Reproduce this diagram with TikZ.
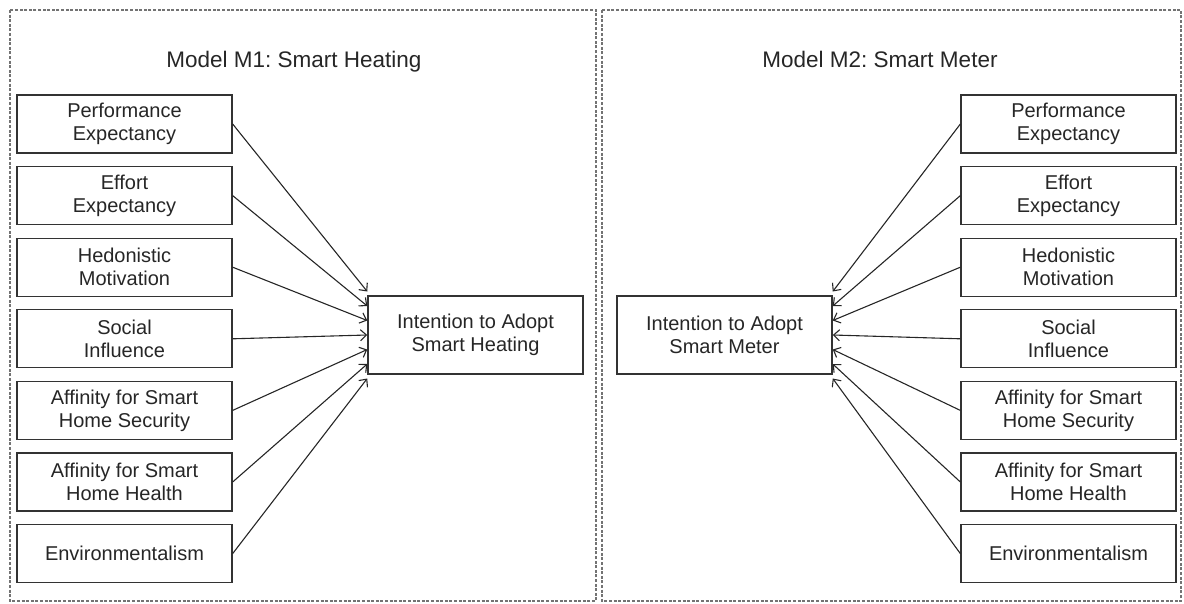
\documentclass[tikz,border=0pt]{standalone}
\usepackage{fontspec}
\setmainfont{Liberation Sans}
\usetikzlibrary{arrows.meta}
\frenchspacing
\begin{document}
\begin{tikzpicture}[x=1pt,y=-1pt,
  panel/.style={draw=black!55,line width=1.4pt,dash pattern=on 3pt off 1.6pt},
  factor/.style={draw=black!80,line width=1.3pt,minimum width=215pt,minimum height=58pt,
    inner sep=0pt,align=center,font=\fontsize{20}{23}\selectfont,text=black!85},
  outcome/.style={factor,minimum height=78pt,line width=1.5pt},
  heading/.style={font=\fontsize{22.5}{27}\selectfont,text=black!85,anchor=base},
  link/.style={draw=black!85,line width=1.1pt,-{Straight Barb[length=6pt,width=11pt]}}]
\useasboundingbox (0,0) rectangle (1184,603);

% dashed panels
\draw[panel] (10,10) rectangle (596,601);
\draw[panel] (602,10) rectangle (1181,601);

% headings
\node[heading] (h1) at (294,67) {Model M1: Smart Heating};
\node[heading] (h2) at (880,67) {Model M2: Smart Meter};

% outcome boxes
\node[outcome] (t1) at (475.5,335) {Intention to Adopt\\Smart Heating};
\node[outcome] (t2) at (724.5,335) {Intention to Adopt\\Smart Meter};

% predictor boxes, both models
\foreach \i/\txt in {0/{Performance\\Expectancy},1/{Effort\\Expectancy},
    2/{Hedonistic\\Motivation},3/{Social\\Influence},
    4/{Affinity for Smart\\Home Security},5/{Affinity for Smart\\Home Health},
    6/{Environmentalism}}{
  \node[factor] (a\i) at (124.5,124+71.6*\i) {\txt};
  \node[factor] (b\i) at (1068.5,124+71.6*\i) {\txt};
  \coordinate (pa\i) at ([yshift={(3-\i)*14.5pt}]t1.west);
  \coordinate (pb\i) at ([yshift={(3-\i)*14.5pt}]t2.east);
  \draw[link] (a\i.east) -- (pa\i);
  \draw[link] (b\i.west) -- (pb\i);
}
\end{tikzpicture}
\end{document}
